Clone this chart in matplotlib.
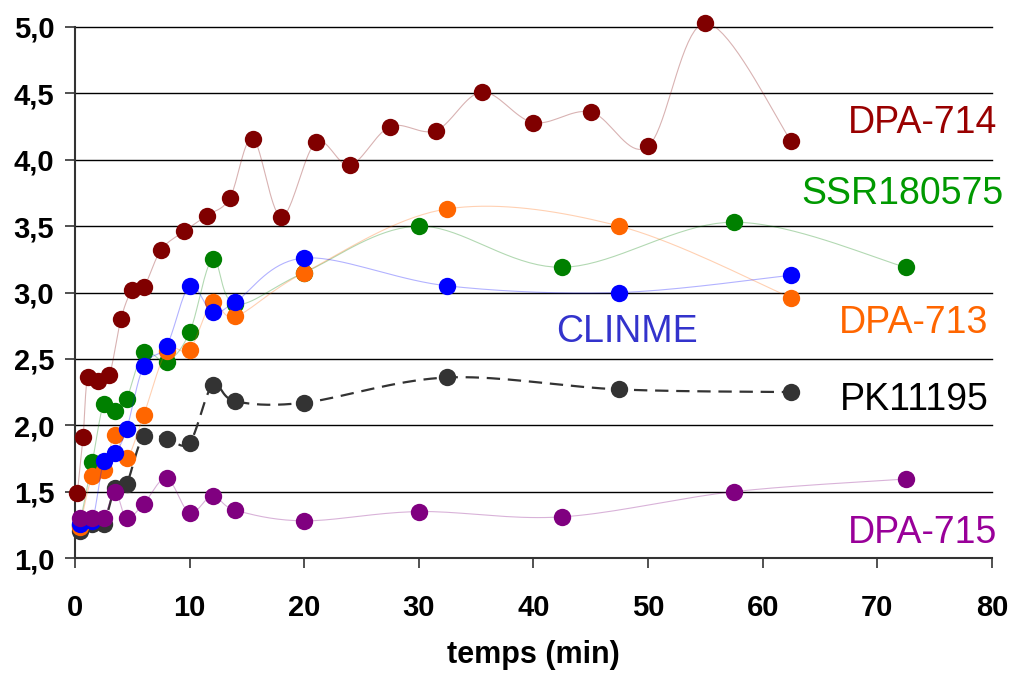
import numpy as np
import matplotlib
matplotlib.use('Agg')
import matplotlib.pyplot as plt

plt.rcParams['font.family'] = ['Liberation Sans', 'DejaVu Sans']

# data (time in min, ratio)
t_714 = [0.2, 0.7, 1.1, 2.0, 3.0, 4.0, 5.0, 6.0, 7.5, 9.5, 11.5, 13.5, 15.5,
         18.0, 21.0, 24.0, 27.5, 31.5, 35.5, 40.0, 45.0, 50.0, 55.0, 62.5]
y_714 = [1.49, 1.91, 2.36, 2.33, 2.38, 2.80, 3.02, 3.04, 3.32, 3.46, 3.58, 3.71, 4.16,
         3.57, 4.13, 3.96, 4.25, 4.22, 4.51, 4.28, 4.36, 4.10, 5.03, 4.14]

t_ssr = [0.4, 1.5, 2.5, 3.5, 4.5, 6, 8, 10, 12, 14, 20, 30, 42.5, 57.5, 72.5]
y_ssr = [1.25, 1.72, 2.16, 2.11, 2.20, 2.55, 2.48, 2.70, 3.25, 2.91, 3.15, 3.50, 3.19, 3.53, 3.19]

t_713 = [0.4, 1.5, 2.5, 3.5, 4.5, 6, 8, 10, 12, 14, 20, 32.5, 47.5, 62.5]
y_713 = [1.23, 1.62, 1.66, 1.93, 1.75, 2.08, 2.56, 2.57, 2.93, 2.82, 3.15, 3.63, 3.50, 2.96]

t_cli = [0.4, 1.5, 2.5, 3.5, 4.5, 6, 8, 10, 12, 14, 20, 32.5, 47.5, 62.5]
y_cli = [1.26, 1.28, 1.73, 1.79, 1.97, 2.45, 2.60, 3.05, 2.85, 2.93, 3.26, 3.05, 3.00, 3.13]

t_pk = [0.4, 1.5, 2.5, 3.5, 4.5, 6, 8, 10, 12, 14, 20, 32.5, 47.5, 62.5]
y_pk = [1.20, 1.26, 1.26, 1.53, 1.56, 1.92, 1.90, 1.87, 2.30, 2.18, 2.17, 2.36, 2.27, 2.25]

t_715 = [0.4, 1.5, 2.5, 3.5, 4.5, 6, 8, 10, 12, 14, 20, 30, 42.5, 57.5, 72.5]
y_715 = [1.30, 1.30, 1.30, 1.50, 1.30, 1.41, 1.60, 1.34, 1.47, 1.36, 1.28, 1.35, 1.31, 1.50, 1.595]

x_ticks = [0, 10, 20, 30, 40, 50, 60, 70, 80]
y_ticks = [1.0, 1.5, 2.0, 2.5, 3.0, 3.5, 4.0, 4.5, 5.0]
y_ticklabels = ['1,0', '1,5', '2,0', '2,5', '3,0', '3,5', '4,0', '4,5', '5,0']


def smooth(x, y, n=20):
    # Excel-like smoothed line (Catmull-Rom bezier)
    p = np.column_stack([x, y]).astype(float)
    pts = []
    for i in range(len(p) - 1):
        p0 = p[i - 1] if i > 0 else p[i]
        p3 = p[i + 2] if i + 2 < len(p) else p[i + 1]
        c1 = p[i] + (p[i + 1] - p0) / 6
        c2 = p[i + 1] - (p3 - p[i]) / 6
        s = np.linspace(0, 1, n)[:, None]
        seg = ((1 - s) ** 3 * p[i] + 3 * (1 - s) ** 2 * s * c1
               + 3 * (1 - s) * s ** 2 * c2 + s ** 3 * p[i + 1])
        pts.append(seg if i == 0 else seg[1:])
    pts = np.vstack(pts)
    return pts[:, 0], pts[:, 1]


fig = plt.figure(figsize=(10.1, 6.75), dpi=100)
ax = fig.add_axes([0.0743, 0.1733, 0.9077, 0.7867])

ms = 12.5
series = [
    (t_pk, y_pk, '#333333', 'pk'),
    (t_ssr, y_ssr, '#008000', 'thin'),
    (t_713, y_713, '#FF6600', 'thin'),
    (t_cli, y_cli, '#0000FF', 'thin'),
    (t_715, y_715, '#800080', 'thin'),
    (t_714, y_714, '#800000', 'thin'),
]
z = 3
for t, y, c, kind in series:
    sx, sy = smooth(t, y)
    if kind == 'pk':
        ax.plot(sx, sy, color=c, lw=1.6, dashes=(6, 3.5), zorder=z, clip_on=False)
    else:
        ax.plot(sx, sy, color=c, lw=0.8, alpha=0.3, zorder=z, clip_on=False)
    ax.plot(t, y, 'o', color=c, ms=ms, mec='none', zorder=z + 0.5, clip_on=False)
    z += 1

ax.set_xlim(0, 80)
ax.set_ylim(1.0, 5.0)
ax.set_xticks(x_ticks)
ax.set_yticks(y_ticks)
ax.set_yticklabels(y_ticklabels)
for lab in ax.get_xticklabels() + ax.get_yticklabels():
    lab.set_fontweight('bold')
ax.tick_params(axis='x', labelsize=21, length=7, width=1.2, color='#333333', pad=19)
ax.tick_params(axis='y', labelsize=21, length=7, width=1.2, color='#333333', pad=8)

for yv in y_ticks[1:]:
    ax.axhline(yv, color='black', lw=1.0, zorder=1, clip_on=False)

for side in ['top', 'right']:
    ax.spines[side].set_visible(False)
for side in ['left', 'bottom']:
    ax.spines[side].set_color('#333333')
    ax.spines[side].set_linewidth(1.5)

ax.set_xlabel('temps (min)', fontsize=22, fontweight='bold', labelpad=13)

fs = 27
ax.text(80.5, 4.28, 'DPA-714', color='#990000', fontsize=fs, ha='right', va='center')
ax.text(81.0, 3.74, 'SSR180575', color='#009900', fontsize=fs, ha='right', va='center')
ax.text(79.7, 2.77, 'DPA-713', color='#FF6600', fontsize=fs, ha='right', va='center')
ax.text(48.2, 2.70, 'CLINME', color='#3333CC', fontsize=fs, ha='center', va='center')
ax.text(79.7, 2.19, 'PK11195', color='black', fontsize=fs, ha='right', va='center')
ax.text(80.5, 1.19, 'DPA-715', color='#990099', fontsize=fs, ha='right', va='center')

fig.savefig('out.png', dpi=100)
